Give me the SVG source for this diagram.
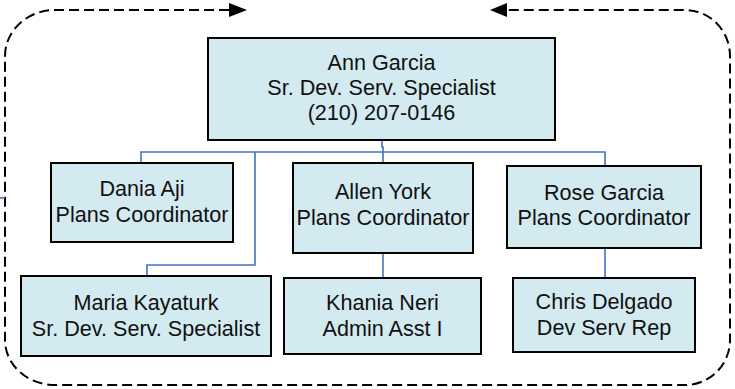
<svg xmlns="http://www.w3.org/2000/svg" width="735" height="389" viewBox="0 0 735 389">
<style>
.box{fill:#D2EAF0;stroke:#000;stroke-width:2}
.t{font-family:"Liberation Sans",Arial,sans-serif;font-size:21.6px;fill:#111;text-anchor:middle}
.c{fill:none;stroke:#4472C4;stroke-width:1.6}
.frame{fill:none;stroke:#000;stroke-width:2;stroke-dasharray:10 5}
</style>
<rect width="735" height="389" fill="#fff"/>
<g id="frame">
<path class="frame" d="M229,10 L55,10 A50,46 0 0 0 5,56 L5,340 A50,45 0 0 0 55,385 L685,385 A45,45 0 0 0 730,340 L730,56 A45,46 0 0 0 685,10 L507,10"/>
<polygon points="247,10 229,3 229,17" fill="#000"/>
<polygon points="490,10 507,3 507,17" fill="#000"/>
</g>
<g id="connectors">
<path class="c" d="M382,140 L382,147 L383,147 L383,163"/>
<path class="c" d="M141,163 L141,152 L605,152 L605,166"/>
<path class="c" d="M255,152 L255,265 L147,265 L147,276"/>
<path class="c" d="M383,253 L383,278"/>
<path class="c" d="M605,248 L605,278"/>
<path class="c" d="M0,198 L5,198"/>
</g>
<g id="ann">
<rect class="box" x="208" y="38" width="347" height="102"/>
<text class="t" x="381.5" y="70">Ann Garcia</text>
<text class="t" x="381.5" y="95">Sr. Dev. Serv. Specialist</text>
<text class="t" x="381.5" y="120">(210) 207-0146</text>
</g>
<g id="dania">
<rect class="box" x="51" y="163" width="182" height="79"/>
<text class="t" x="142" y="196">Dania Aji</text>
<text class="t" x="142" y="222">Plans Coordinator</text>
</g>
<g id="allen">
<rect class="box" x="293" y="163" width="180" height="90"/>
<text class="t" x="383" y="199">Allen York</text>
<text class="t" x="383" y="225">Plans Coordinator</text>
</g>
<g id="rose">
<rect class="box" x="507" y="166" width="194" height="82"/>
<text class="t" x="604" y="200">Rose Garcia</text>
<text class="t" x="604" y="225">Plans Coordinator</text>
</g>
<g id="maria">
<rect class="box" x="21" y="276" width="250" height="80"/>
<text class="t" x="146" y="310">Maria Kayaturk</text>
<text class="t" x="146" y="336">Sr. Dev. Serv. Specialist</text>
</g>
<g id="khania">
<rect class="box" x="284" y="278" width="197" height="76"/>
<text class="t" x="382.5" y="310">Khania Neri</text>
<text class="t" x="382.5" y="336">Admin Asst I</text>
</g>
<g id="chris">
<rect class="box" x="513" y="278" width="182" height="74"/>
<text class="t" x="604" y="309">Chris Delgado</text>
<text class="t" x="604" y="335">Dev Serv Rep</text>
</g>
</svg>
